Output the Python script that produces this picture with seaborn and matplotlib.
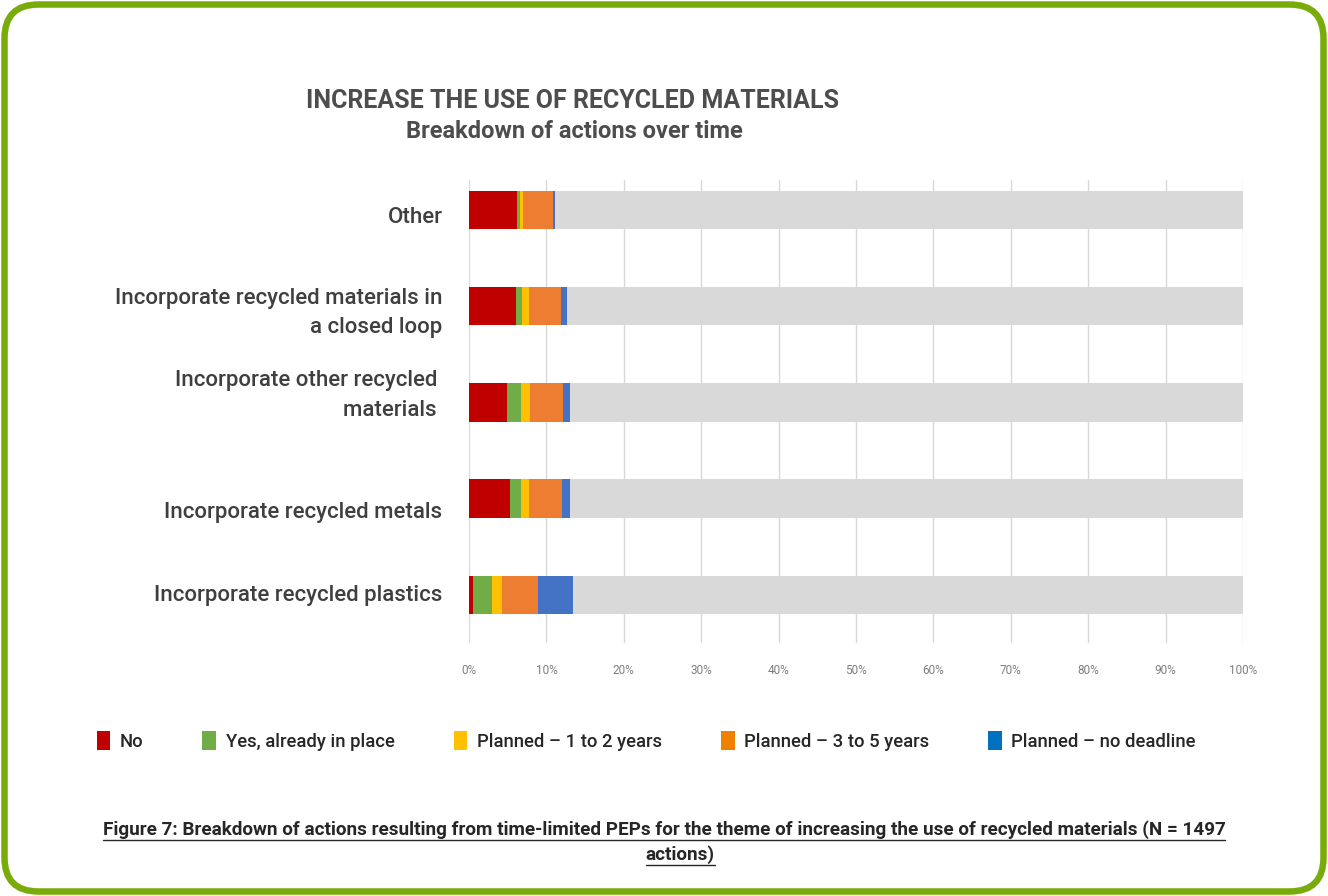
import numpy as np
import pandas as pd
import matplotlib
matplotlib.use("Agg")
import matplotlib.pyplot as plt
import seaborn as sns
from matplotlib.patches import FancyBboxPatch, Patch
from matplotlib.transforms import IdentityTransform, offset_copy
from matplotlib.lines import Line2D

# ---- data (percent of actions) ----
categories = [
    "Other",
    "Incorporate recycled materials in\na closed loop",
    "Incorporate other recycled \nmaterials ",
    "Incorporate recycled metals",
    "Incorporate recycled plastics",
]
no_action = [6.2, 6.1, 4.9, 5.3, 0.5]
in_place = [0.4, 0.7, 1.8, 1.4, 2.5]
planned_1_2 = [0.4, 1.0, 1.2, 1.1, 1.2]
planned_3_5 = [3.9, 4.1, 4.2, 4.2, 4.7]
planned_open = [0.2, 0.8, 0.9, 1.0, 4.5]
unspecified = [88.9, 87.3, 87.0, 87.0, 86.6]

series_names = ["No", "Yes, already in place", "Planned – 1 to 2 years",
                "Planned – 3 to 5 years", "Planned – no deadline"]
tick_values = [0, 10, 20, 30, 40, 50, 60, 70, 80, 90, 100]
tick_labels = ["0%", "10%", "20%", "30%", "40%", "50%", "60%", "70%", "80%", "90%", "100%"]

bar_colors = ["#c00000", "#70ad47", "#ffc000", "#ed7d31", "#4472c4", "#d9d9d9"]
legend_colors = ["#c00000", "#70ad47", "#ffc000", "#f08000", "#0070c0"]

# vertical nudges (points, positive = down) of the category labels
label_nudge = [4, 0, -10, 8, -1]

sns.set_theme(style="white")
plt.rcParams["font.family"] = ["Roboto", "DejaVu Sans"]

fig = plt.figure(figsize=(13.28, 8.96), dpi=100)
fig.patch.set_facecolor("white")

ax = fig.add_axes([469 / 1328, 1 - 643 / 896, (1243 - 469) / 1328, (643 - 180) / 896])

df = pd.DataFrame({
    "category": categories,
    "s0": no_action, "s1": in_place, "s2": planned_1_2,
    "s3": planned_3_5, "s4": planned_open, "s5": unspecified,
})
cols = ["s0", "s1", "s2", "s3", "s4", "s5"]
cum = df[cols].cumsum(axis=1)

# stacked horizontal bars: draw cumulative totals from the back to the front
for i in reversed(range(len(cols))):
    sns.barplot(data=cum.assign(category=df["category"]), x=cols[i], y="category",
                orient="h", color=bar_colors[i], width=0.4, ax=ax,
                saturation=1, edgecolor="none", linewidth=0, zorder=2)

ax.set_xlim(0, 100)
ax.set_ylim(4.5, -0.31)
ax.set_xticks(tick_values)
ax.set_xticklabels(tick_labels, fontsize=8.5, color="#7f7f7f")
ax.set_xlabel("")
ax.set_ylabel("")
ax.tick_params(axis="x", length=0, pad=15)
ax.tick_params(axis="y", length=0, pad=19)
for lab, dy in zip(ax.get_yticklabels(), label_nudge):
    lab.set_fontsize(16)
    lab.set_color("#3f3f3f")
    lab.set_fontweight("medium")
    lab.set_horizontalalignment("right")
    lab.set_linespacing(1.55)
    lab.set_transform(offset_copy(lab.get_transform(), fig=fig, x=0, y=-dy, units="points"))
ax.grid(axis="x", color="#d9d9d9", linewidth=1, zorder=0)
ax.grid(axis="y", visible=False)
ax.set_axisbelow(True)
for sp in ax.spines.values():
    sp.set_visible(False)

# titles
fig.text(573 / 1328, 1 - 101 / 896, "INCREASE THE USE OF RECYCLED MATERIALS",
         ha="center", va="center", fontsize=18, fontweight="bold", color="#4d4d4d")
fig.text(574 / 1328, 1 - 131 / 896, "Breakdown of actions over time",
         ha="center", va="center", fontsize=17, fontweight="bold", color="#4d4d4d")

# legend
handles = [Patch(facecolor=c, edgecolor="none") for c in legend_colors]
fig.legend(handles, series_names, loc="center left", bbox_to_anchor=(80 / 1328, 1 - 741 / 896),
           ncol=5, frameon=False, handlelength=0.75, handleheight=1.15,
           handletextpad=0.5, columnspacing=3.2, labelcolor="#262626",
           prop={"size": 13.3, "weight": "medium"})

# caption, underlined
cap1 = fig.text(664 / 1328, 1 - 830 / 896,
                "Figure 7: Breakdown of actions resulting from time-limited PEPs for the theme of "
                "increasing the use of recycled materials (N = 1497",
                ha="center", va="center", fontsize=13.6, fontweight="bold", color="#262626")
cap2 = fig.text(680 / 1328, 1 - 855 / 896, "actions)",
                ha="center", va="center", fontsize=13.6, fontweight="bold", color="#262626")
fig.canvas.draw()
renderer = fig.canvas.get_renderer()
for t in (cap1, cap2):
    bb = t.get_window_extent(renderer)
    y = bb.y0 - 1
    fig.add_artist(Line2D([bb.x0, bb.x1], [y, y], transform=IdentityTransform(),
                          color="#262626", linewidth=1.0))

# rounded green frame
frame = FancyBboxPatch((4.5, 4.5), 1328 - 9, 896 - 9,
                       boxstyle="round,pad=0,rounding_size=34",
                       transform=IdentityTransform(), facecolor="none",
                       edgecolor="#79ab0a", linewidth=6.5 * 72 / 100)
fig.add_artist(frame)

fig.savefig("out.png", dpi=100, facecolor="white")
